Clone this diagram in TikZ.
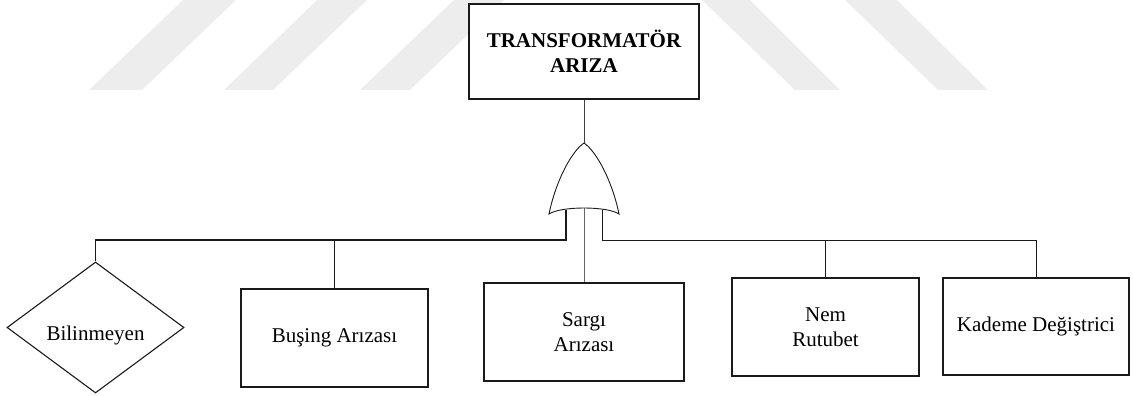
\documentclass[tikz,border=0pt]{standalone}
\usepackage{fontspec}
\setmainfont{Liberation Serif}
\usetikzlibrary{shapes.geometric}
\definecolor{wm}{HTML}{EDEDED}
\definecolor{ln}{HTML}{1A1A1A}
\tikzset{
  box/.style={draw=ln, line width=1.1pt, fill=white, rectangle, inner sep=0pt, align=center,
    font=\fontsize{21}{25}\selectfont},
  conn/.style={draw=ln, line width=1pt},
  bus/.style={draw=ln, line width=1.9pt},
  wmark/.style={fill=wm, draw=none}
}
\begin{document}
\begin{tikzpicture}[x=1pt,y=-1pt]
\useasboundingbox (0,0) rectangle (1133,396);
% watermark stripes
\fill[wmark] (89,90) -- (142,90) -- (236,0) -- (183,0) -- cycle;
\fill[wmark] (224,90) -- (273,90) -- (367,0) -- (317,0) -- cycle;
\fill[wmark] (360,90) -- (410,90) -- (504,0) -- (454,0) -- cycle;
\fill[wmark] (702,0) -- (750,0) -- (840,90) -- (795,90) -- cycle;
\fill[wmark] (845,0) -- (897,0) -- (988,90) -- (938,90) -- cycle;

% top event
\node[box, minimum width=230pt, minimum height=95pt, font=\fontsize{21}{25}\selectfont\bfseries]
  (top) at (584,51.5) {TRANSFORMATÖR\\ARIZA};

% OR gate
\coordinate (gtop) at (584,143);
\coordinate (gl) at (566,210);
\coordinate (gr) at (602,210);
\coordinate (gm) at (584,208);
\coordinate (busL) at (566,240);
\coordinate (busR) at (602,240);

% children
\node[box, diamond, aspect=1.35, minimum width=177pt, minimum height=131pt,
      text height=30pt, text depth=4pt] (bil) at (95.5,327.5) {Bilinmeyen};
\node[box, minimum width=187pt, minimum height=98pt] (bus) at (334.5,338) {Buşing Arızası};
\node[box, minimum width=200pt, minimum height=98pt] (sar) at (584,332) {Sargı\\Arızası};
\node[box, minimum width=187pt, minimum height=98pt] (nem) at (825.5,327) {Nem\\Rutubet};
\node[box, minimum width=186pt, minimum height=97pt] (kad) at (1036,326.5) {Kademe Değiştrici};

% connectors
\draw[conn, draw=black!75] (top.south) -- (gtop);
\draw[bus] (gl) -- (busL) -| (bil.north);
\draw[conn] (bus.north) -- (bus.north |- busL);
\draw[conn, draw=black!60] (gm) -- (sar.north);
\draw[conn] (gr) -- (busR) -| (kad.north);
\draw[conn] (nem.north) -- (nem.north |- busR);

% gate body
\draw[conn, fill=white, line width=0.9pt] (549,214) .. controls (556,180) and (572,151) .. (gtop)
  .. controls (596,151) and (612,180) .. (619,214)
  .. controls (607,206) and (561,206) .. cycle;
\end{tikzpicture}
\end{document}
